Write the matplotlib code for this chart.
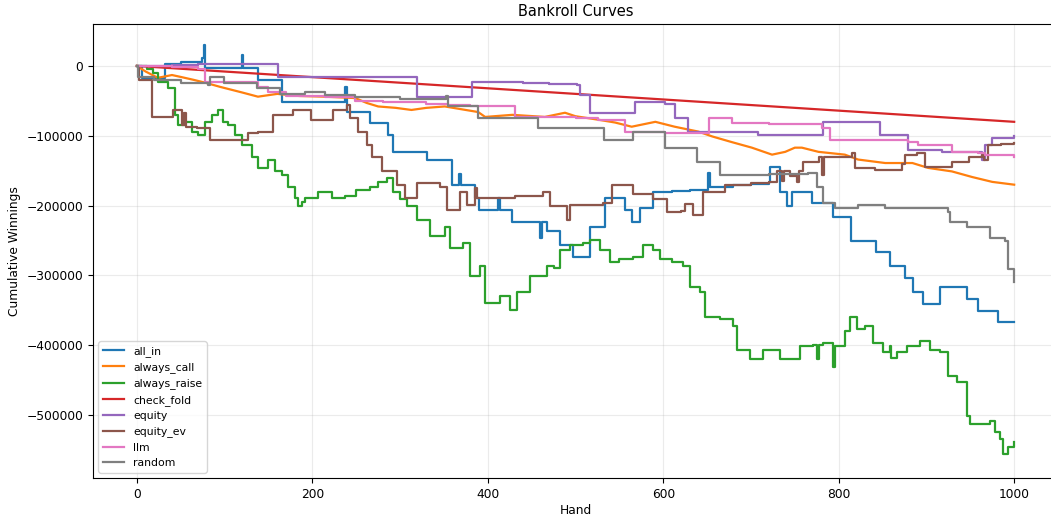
import numpy as np
import matplotlib
matplotlib.use("Agg")
from matplotlib import pyplot as plt

# Breakpoints (hand, cumulative winnings)
all_in_hands = [0, 6, 32, 50, 74, 76, 78, 120, 121, 138, 165, 237, 239, 266, 286, 292, 331, 359, 367, 369,
                385, 390, 412, 414, 428, 460, 462, 467, 482, 497, 517, 534, 556, 564, 573, 588, 610, 630, 651, 653,
                680, 700, 720, 722, 733, 741, 747, 770, 794, 814, 842, 859, 876, 885, 896, 916, 946, 959, 981, 1000]
all_in_vals = [0, -17000, 3000, 6000, 11000, 30000, -3000, 15000, -3000, -20000,
               -51000, -30000, -66000, -81000, -99000, -123000, -134000, -170000, -155000, -170000,
               -189000, -206000, -189000, -206000, -223000, -247000, -223000, -237000, -256000, -274000,
               -231000, -189000, -206000, -224000, -203000, -181000, -179000, -177000, -153000, -174000,
               -171000, -169000, -166000, -144000, -180000, -201000, -180000, -196000, -216000, -251000,
               -267000, -287000, -303000, -323000, -341000, -316000, -334000, -351000, -367000, -367000]

always_call_hands = [0, 10, 24, 40, 51, 65, 78, 95, 120, 138, 160, 185, 214, 249, 262, 275, 295, 313, 330, 351,
                     370, 389, 397, 428, 465, 488, 500, 526, 545, 564, 591, 613, 640, 656, 678, 701, 724, 739, 750, 758,
                     777, 807, 822, 853, 884, 902, 929, 952, 975, 1000]
always_call_vals = [0, -8000, -17000, -13000, -16000, -20000, -24000, -30000, -38000, -44000,
                    -40000, -43000, -44000, -46000, -53000, -58000, -60000, -63000, -60000, -58000,
                    -62000, -66000, -73000, -70000, -73000, -67000, -72000, -77000, -81000, -87000,
                    -80000, -87000, -94000, -101000, -109000, -117000, -127000, -123000, -117000, -117000,
                    -123000, -127000, -134000, -139000, -139000, -146000, -151000, -159000, -166000, -170000]

always_raise_hands = [0, 12, 18, 24, 35, 43, 47, 55, 63, 70, 78, 86, 92, 98, 104, 112, 120, 131, 138, 149,
                      157, 165, 172, 180, 184, 188, 192, 206, 222, 237, 250, 266, 275, 285, 292, 300, 308, 319, 334, 351,
                      357, 372, 380, 391, 397, 414, 425, 433, 448, 467, 475, 482, 494, 509, 517, 528, 539, 550, 566, 577,
                      588, 596, 610, 623, 631, 642, 648, 665, 680, 684, 699, 714, 733, 756, 771, 775, 777, 782, 794, 796,
                      807, 813, 821, 830, 839, 851, 858, 860, 867, 878, 893, 904, 916, 924, 935, 946, 950, 973, 978, 984,
                      987, 993, 1000]
always_raise_vals = [0, -5000, -10000, -23000, -31000, -70000, -84000, -80000, -94000, -99000,
                     -80000, -70000, -63000, -80000, -84000, -99000, -113000, -131000, -146000, -134000,
                     -151000, -156000, -174000, -189000, -201000, -195000, -189000, -181000, -189000, -186000,
                     -178000, -173000, -166000, -160000, -181000, -190000, -201000, -220000, -244000, -231000,
                     -260000, -253000, -301000, -287000, -339000, -330000, -349000, -324000, -301000, -287000,
                     -290000, -263000, -256000, -253000, -249000, -263000, -281000, -276000, -274000, -256000,
                     -263000, -277000, -280000, -287000, -316000, -324000, -359000, -363000, -373000, -406000,
                     -420000, -406000, -420000, -401000, -399000, -420000, -399000, -396000, -431000, -401000,
                     -380000, -359000, -377000, -373000, -396000, -409000, -401000, -418000, -410000, -401000,
                     -394000, -406000, -409000, -444000, -453000, -501000, -513000, -509000, -524000, -534000,
                     -556000, -546000, -539000]

check_fold_hands = [0, 1000]
check_fold_vals = [0, -80000]

equity_hands = [0, 40, 70, 161, 319, 382, 440, 470, 502, 505, 516, 568, 602, 613, 628, 708, 782, 847, 879, 918,
                963, 967, 975, 1000]
equity_vals = [0, 2000, 3000, -16000, -44000, -23000, -24000, -26000, -27000, -41000,
               -67000, -51000, -54000, -74000, -94000, -99000, -80000, -99000, -120000, -123000,
               -134000, -113000, -103000, -101000]

equity_ev_hands = [0, 2, 17, 41, 51, 54, 56, 68, 83, 127, 138, 155, 178, 199, 224, 239, 243, 252, 262, 268,
                   279, 296, 306, 319, 345, 353, 368, 376, 385, 388, 431, 463, 471, 490, 494, 531, 542, 566, 588, 604,
                   620, 625, 634, 645, 670, 700, 720, 730, 735, 738, 745, 752, 755, 759, 777, 781, 783, 815, 819, 841,
                   872, 876, 889, 898, 929, 948, 963, 966, 970, 985, 1000]
equity_ev_vals = [0, -20000, -73000, -63000, -84000, -67000, -87000, -89000, -106000, -96000,
                  -94000, -70000, -63000, -77000, -63000, -56000, -74000, -94000, -113000, -131000,
                  -151000, -170000, -189000, -167000, -174000, -206000, -180000, -199000, -175000, -189000,
                  -186000, -181000, -201000, -220000, -199000, -196000, -170000, -184000, -191000, -209000,
                  -207000, -197000, -213000, -180000, -170000, -168000, -166000, -150000, -165000, -150000,
                  -158000, -166000, -150000, -137000, -131000, -156000, -131000, -124000, -146000, -149000,
                  -141000, -127000, -124000, -144000, -137000, -131000, -127000, -134000, -113000, -112000,
                  -110000]

llm_hands = [0, 40, 70, 78, 138, 150, 170, 214, 249, 280, 330, 355, 380, 431, 500, 526, 556, 602, 651, 652,
             678, 720, 781, 790, 879, 890, 929, 959, 967, 1000]
llm_vals = [0, -2000, -5000, -23000, -30000, -38000, -43000, -45000, -50000, -52000,
            -55000, -56000, -58000, -73000, -74000, -77000, -94000, -96000, -96000, -74000,
            -81000, -83000, -89000, -106000, -109000, -113000, -123000, -124000, -127000, -131000]

random_hands = [0, 1, 20, 50, 81, 83, 99, 137, 163, 192, 214, 249, 300, 350, 352, 355, 389, 457, 533, 565,
                602, 638, 665, 720, 765, 775, 782, 796, 822, 853, 924, 927, 946, 972, 990, 993, 1000]
random_vals = [0, -16000, -20000, -24000, -27000, -16000, -24000, -31000, -40000, -38000,
               -41000, -44000, -47000, -48000, -43000, -58000, -74000, -89000, -106000, -94000,
               -117000, -137000, -156000, -154000, -153000, -173000, -196000, -203000, -199000, -203000,
               -209000, -223000, -230000, -246000, -251000, -291000, -309000]

series = [
    ("all_in", all_in_hands, all_in_vals),
    ("always_call", always_call_hands, always_call_vals),
    ("always_raise", always_raise_hands, always_raise_vals),
    ("check_fold", check_fold_hands, check_fold_vals),
    ("equity", equity_hands, equity_vals),
    ("equity_ev", equity_ev_hands, equity_ev_vals),
    ("llm", llm_hands, llm_vals),
    ("random", random_hands, random_vals),
]

fig = plt.figure(figsize=(10.51, 5.17), dpi=100)
ax = fig.add_axes([0.0885, 0.0754, 0.9182, 0.8781])

for name, h, v in series:
    # check_fold and always_call look like plain lines, the rest are stepwise
    if name in ("check_fold", "always_call"):
        ax.plot(h, v, label=name, lw=1.6)
    else:
        ax.step(h, v, where="post", label=name, lw=1.6)

ax.set_xlim(-50, 1050)
ax.set_ylim(-590000, 60000)
ax.set_xticks([0, 200, 400, 600, 800, 1000])
ax.set_yticks([-500000, -400000, -300000, -200000, -100000, 0])
ax.tick_params(labelsize=8.8)
ax.set_xlabel("Hand", fontsize=8.8, labelpad=2)
ax.set_ylabel("Cumulative Winnings", fontsize=8.8)
ax.set_title("Bankroll Curves", fontsize=10.5)
ax.spines["right"].set_visible(False)
ax.grid(True, alpha=0.25)
ax.legend(loc="lower left", fontsize=7.8)

plt.savefig("out.png", dpi=100)
